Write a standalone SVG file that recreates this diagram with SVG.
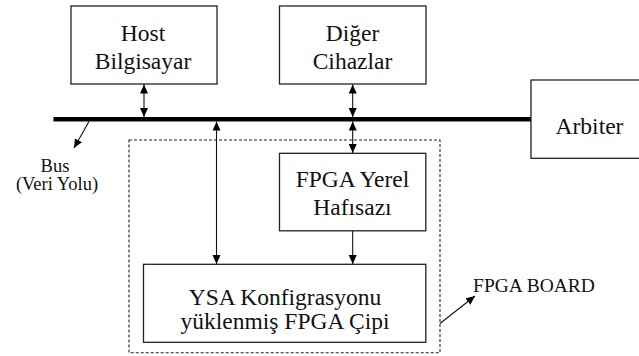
<svg xmlns="http://www.w3.org/2000/svg" width="639" height="356" viewBox="0 0 639 356">
<style>
.box{fill:#fff;stroke:#222;stroke-width:1.3}
.c{fill:none;stroke:#111;stroke-width:1.1}
</style>
<defs>
<marker id="ah" markerUnits="userSpaceOnUse" markerWidth="10" markerHeight="9" refX="9" refY="4" orient="auto-start-reverse" viewBox="0 0 10 9">
<path d="M0,0 L9,4 L0,8 z" fill="#000"/>
</marker>
</defs>
<g id="board">
<rect x="129" y="140" width="311" height="212.7" fill="none" stroke="#222" stroke-width="1.1" stroke-dasharray="3,2"/>
<text x="534" y="291.5" font-family="Liberation Serif, Times New Roman, serif" font-size="19.5" fill="#111" text-anchor="middle">FPGA BOARD</text>
</g>
<g id="bus">
<line x1="53.5" y1="119.3" x2="531" y2="119.3" stroke="#000" stroke-width="4.5"/>
<g font-family="Liberation Serif, Times New Roman, serif" font-size="18.5" fill="#111" text-anchor="middle">
<text x="55" y="171.5">Bus</text>
<text x="57" y="190">(Veri Yolu)</text>
</g>
</g>
<g font-family="Liberation Serif, Times New Roman, serif" font-size="23.5" fill="#111" text-anchor="middle">
<g id="host">
<rect class="box" x="71" y="6" width="146" height="78"/>
<text x="143" y="41">Host</text>
<text x="143" y="68.5">Bilgisayar</text>
</g>
<g id="diger">
<rect class="box" x="279.5" y="6" width="146.5" height="78"/>
<text x="352.5" y="41">Diğer</text>
<text x="352.5" y="68.5">Cihazlar</text>
</g>
<g id="arbiter">
<rect class="box" x="531" y="80" width="110" height="78.3"/>
<text x="589.5" y="133.5">Arbiter</text>
</g>
<g id="yerel">
<rect class="box" x="279.5" y="153.3" width="146.3" height="77.5"/>
<text x="352.5" y="186.7">FPGA Yerel</text>
<text x="352.5" y="215">Hafısazı</text>
</g>
<g id="ysa">
<rect class="box" x="143.5" y="264.3" width="282.3" height="78"/>
<text x="285" y="305">YSA Konfigrasyonu</text>
<text x="285" y="328.5">yüklenmiş FPGA Çipi</text>
</g>
</g>
<g id="connectors">
<path class="c" d="M144,84.5 V117" marker-start="url(#ah)" marker-end="url(#ah)"/>
<path class="c" d="M352.7,84.5 V117" marker-start="url(#ah)" marker-end="url(#ah)"/>
<path class="c" d="M352.7,121.6 V153" marker-start="url(#ah)" marker-end="url(#ah)"/>
<path class="c" d="M216.5,121.6 V264" marker-start="url(#ah)" marker-end="url(#ah)"/>
<path class="c" d="M352.7,231 V264" marker-end="url(#ah)"/>
<path class="c" d="M89,121.5 L74,148" marker-end="url(#ah)"/>
<path class="c" d="M440,323.5 L475,296" marker-end="url(#ah)"/>
</g>
</svg>
